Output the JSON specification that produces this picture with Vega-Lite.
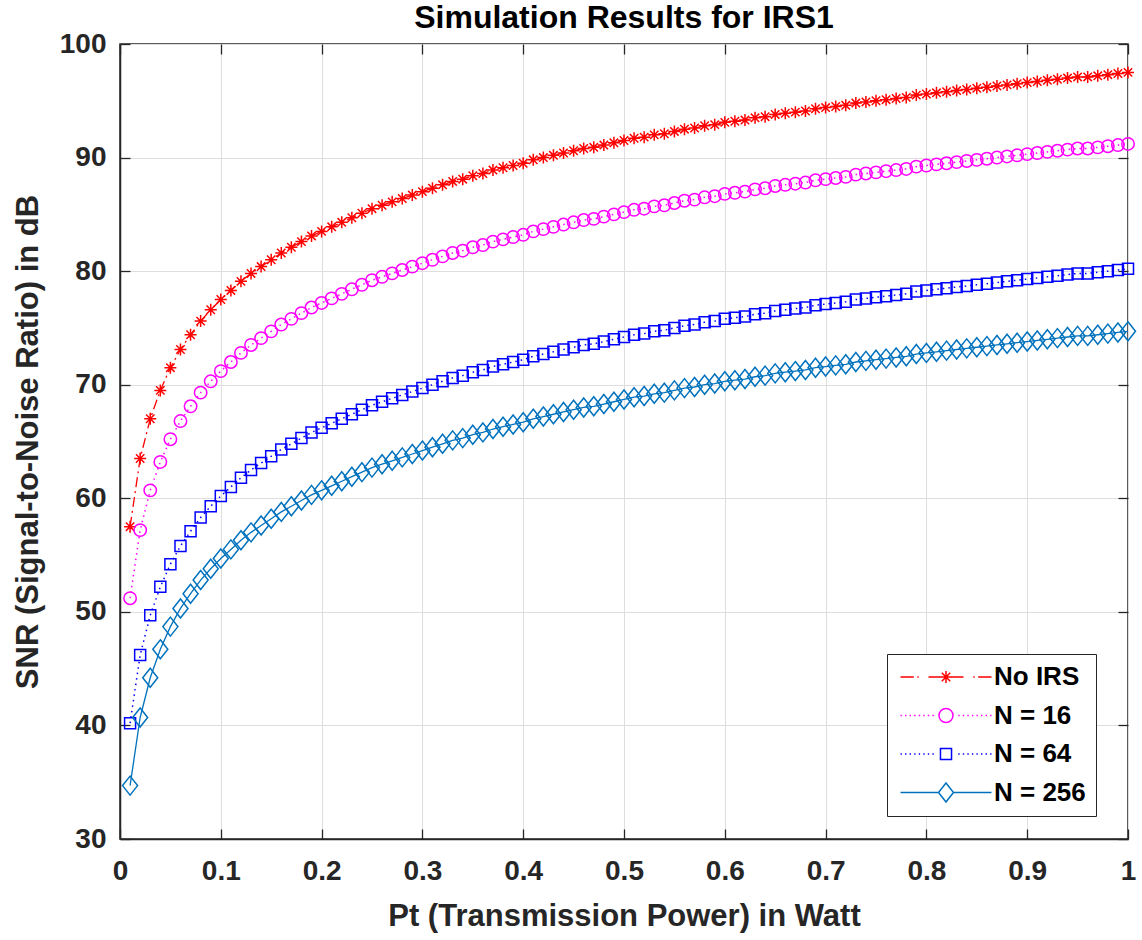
{
"$schema": "https://vega.github.io/schema/vega-lite/v6.json",
"width": 1008,
"height": 795,
"autosize": {"type": "none"},
"padding": {"left": 120, "top": 44, "right": 14, "bottom": 101},
"background": "white",
"title": {"text": "Simulation Results for IRS1", "fontSize": 32, "fontWeight": "bold", "color": "black", "font": "Liberation Sans", "anchor": "middle", "frame": "group", "offset": -5},
"config": {
  "font": "Liberation Sans",
  "view": {"stroke": "#262626", "strokeWidth": 1.5},
  "axis": {"labelFont": "Liberation Sans", "titleFont": "Liberation Sans"}
},
"datasets": {
"noirs": [{"pt":0.01,"snr":57.5},{"pt":0.02,"snr":63.5},{"pt":0.03,"snr":67.0},{"pt":0.04,"snr":69.5},{"pt":0.05,"snr":71.5},{"pt":0.06,"snr":73.1},{"pt":0.07,"snr":74.4},{"pt":0.08,"snr":75.6},{"pt":0.09,"snr":76.6},{"pt":0.10,"snr":77.5},
{"pt":0.11,"snr":78.3},{"pt":0.12,"snr":79.1},{"pt":0.13,"snr":79.8},{"pt":0.14,"snr":80.4},{"pt":0.15,"snr":81.0},{"pt":0.16,"snr":81.6},{"pt":0.17,"snr":82.1},{"pt":0.18,"snr":82.6},{"pt":0.19,"snr":83.1},{"pt":0.20,"snr":83.5},
{"pt":0.21,"snr":83.9},{"pt":0.22,"snr":84.3},{"pt":0.23,"snr":84.7},{"pt":0.24,"snr":85.1},{"pt":0.25,"snr":85.5},{"pt":0.26,"snr":85.8},{"pt":0.27,"snr":86.1},{"pt":0.28,"snr":86.4},{"pt":0.29,"snr":86.7},{"pt":0.30,"snr":87.0},
{"pt":0.31,"snr":87.3},{"pt":0.32,"snr":87.6},{"pt":0.33,"snr":87.9},{"pt":0.34,"snr":88.1},{"pt":0.35,"snr":88.4},{"pt":0.36,"snr":88.6},{"pt":0.37,"snr":88.9},{"pt":0.38,"snr":89.1},{"pt":0.39,"snr":89.3},{"pt":0.40,"snr":89.5},
{"pt":0.41,"snr":89.8},{"pt":0.42,"snr":90.0},{"pt":0.43,"snr":90.2},{"pt":0.44,"snr":90.4},{"pt":0.45,"snr":90.6},{"pt":0.46,"snr":90.8},{"pt":0.47,"snr":90.9},{"pt":0.48,"snr":91.1},{"pt":0.49,"snr":91.3},{"pt":0.50,"snr":91.5},
{"pt":0.51,"snr":91.7},{"pt":0.52,"snr":91.8},{"pt":0.53,"snr":92.0},{"pt":0.54,"snr":92.1},{"pt":0.55,"snr":92.3},{"pt":0.56,"snr":92.5},{"pt":0.57,"snr":92.6},{"pt":0.58,"snr":92.8},{"pt":0.59,"snr":92.9},{"pt":0.60,"snr":93.1},
{"pt":0.61,"snr":93.2},{"pt":0.62,"snr":93.3},{"pt":0.63,"snr":93.5},{"pt":0.64,"snr":93.6},{"pt":0.65,"snr":93.8},{"pt":0.66,"snr":93.9},{"pt":0.67,"snr":94.0},{"pt":0.68,"snr":94.1},{"pt":0.69,"snr":94.3},{"pt":0.70,"snr":94.4},
{"pt":0.71,"snr":94.5},{"pt":0.72,"snr":94.6},{"pt":0.73,"snr":94.8},{"pt":0.74,"snr":94.9},{"pt":0.75,"snr":95.0},{"pt":0.76,"snr":95.1},{"pt":0.77,"snr":95.2},{"pt":0.78,"snr":95.3},{"pt":0.79,"snr":95.5},{"pt":0.80,"snr":95.6},
{"pt":0.81,"snr":95.7},{"pt":0.82,"snr":95.8},{"pt":0.83,"snr":95.9},{"pt":0.84,"snr":96.0},{"pt":0.85,"snr":96.1},{"pt":0.86,"snr":96.2},{"pt":0.87,"snr":96.3},{"pt":0.88,"snr":96.4},{"pt":0.89,"snr":96.5},{"pt":0.90,"snr":96.6},
{"pt":0.91,"snr":96.7},{"pt":0.92,"snr":96.8},{"pt":0.93,"snr":96.9},{"pt":0.94,"snr":97.0},{"pt":0.95,"snr":97.1},{"pt":0.96,"snr":97.1},{"pt":0.97,"snr":97.2},{"pt":0.98,"snr":97.3},{"pt":0.99,"snr":97.4},{"pt":1.00,"snr":97.5}],
"n16": [{"pt":0.01,"snr":51.2},{"pt":0.02,"snr":57.2},{"pt":0.03,"snr":60.7},{"pt":0.04,"snr":63.2},{"pt":0.05,"snr":65.2},{"pt":0.06,"snr":66.8},{"pt":0.07,"snr":68.1},{"pt":0.08,"snr":69.3},{"pt":0.09,"snr":70.3},{"pt":0.10,"snr":71.2},
{"pt":0.11,"snr":72.0},{"pt":0.12,"snr":72.8},{"pt":0.13,"snr":73.5},{"pt":0.14,"snr":74.1},{"pt":0.15,"snr":74.7},{"pt":0.16,"snr":75.3},{"pt":0.17,"snr":75.8},{"pt":0.18,"snr":76.3},{"pt":0.19,"snr":76.8},{"pt":0.20,"snr":77.2},
{"pt":0.21,"snr":77.6},{"pt":0.22,"snr":78.0},{"pt":0.23,"snr":78.4},{"pt":0.24,"snr":78.8},{"pt":0.25,"snr":79.2},{"pt":0.26,"snr":79.5},{"pt":0.27,"snr":79.8},{"pt":0.28,"snr":80.1},{"pt":0.29,"snr":80.4},{"pt":0.30,"snr":80.7},
{"pt":0.31,"snr":81.0},{"pt":0.32,"snr":81.3},{"pt":0.33,"snr":81.6},{"pt":0.34,"snr":81.8},{"pt":0.35,"snr":82.1},{"pt":0.36,"snr":82.3},{"pt":0.37,"snr":82.6},{"pt":0.38,"snr":82.8},{"pt":0.39,"snr":83.0},{"pt":0.40,"snr":83.2},
{"pt":0.41,"snr":83.5},{"pt":0.42,"snr":83.7},{"pt":0.43,"snr":83.9},{"pt":0.44,"snr":84.1},{"pt":0.45,"snr":84.3},{"pt":0.46,"snr":84.5},{"pt":0.47,"snr":84.6},{"pt":0.48,"snr":84.8},{"pt":0.49,"snr":85.0},{"pt":0.50,"snr":85.2},
{"pt":0.51,"snr":85.4},{"pt":0.52,"snr":85.5},{"pt":0.53,"snr":85.7},{"pt":0.54,"snr":85.8},{"pt":0.55,"snr":86.0},{"pt":0.56,"snr":86.2},{"pt":0.57,"snr":86.3},{"pt":0.58,"snr":86.5},{"pt":0.59,"snr":86.6},{"pt":0.60,"snr":86.8},
{"pt":0.61,"snr":86.9},{"pt":0.62,"snr":87.0},{"pt":0.63,"snr":87.2},{"pt":0.64,"snr":87.3},{"pt":0.65,"snr":87.5},{"pt":0.66,"snr":87.6},{"pt":0.67,"snr":87.7},{"pt":0.68,"snr":87.8},{"pt":0.69,"snr":88.0},{"pt":0.70,"snr":88.1},
{"pt":0.71,"snr":88.2},{"pt":0.72,"snr":88.3},{"pt":0.73,"snr":88.5},{"pt":0.74,"snr":88.6},{"pt":0.75,"snr":88.7},{"pt":0.76,"snr":88.8},{"pt":0.77,"snr":88.9},{"pt":0.78,"snr":89.0},{"pt":0.79,"snr":89.2},{"pt":0.80,"snr":89.3},
{"pt":0.81,"snr":89.4},{"pt":0.82,"snr":89.5},{"pt":0.83,"snr":89.6},{"pt":0.84,"snr":89.7},{"pt":0.85,"snr":89.8},{"pt":0.86,"snr":89.9},{"pt":0.87,"snr":90.0},{"pt":0.88,"snr":90.1},{"pt":0.89,"snr":90.2},{"pt":0.90,"snr":90.3},
{"pt":0.91,"snr":90.4},{"pt":0.92,"snr":90.5},{"pt":0.93,"snr":90.6},{"pt":0.94,"snr":90.7},{"pt":0.95,"snr":90.8},{"pt":0.96,"snr":90.8},{"pt":0.97,"snr":90.9},{"pt":0.98,"snr":91.0},{"pt":0.99,"snr":91.1},{"pt":1.00,"snr":91.2}],
"n64": [{"pt":0.01,"snr":40.2},{"pt":0.02,"snr":46.2},{"pt":0.03,"snr":49.7},{"pt":0.04,"snr":52.2},{"pt":0.05,"snr":54.2},{"pt":0.06,"snr":55.8},{"pt":0.07,"snr":57.1},{"pt":0.08,"snr":58.3},{"pt":0.09,"snr":59.3},{"pt":0.10,"snr":60.2},
{"pt":0.11,"snr":61.0},{"pt":0.12,"snr":61.8},{"pt":0.13,"snr":62.5},{"pt":0.14,"snr":63.1},{"pt":0.15,"snr":63.7},{"pt":0.16,"snr":64.3},{"pt":0.17,"snr":64.8},{"pt":0.18,"snr":65.3},{"pt":0.19,"snr":65.8},{"pt":0.20,"snr":66.2},
{"pt":0.21,"snr":66.6},{"pt":0.22,"snr":67.0},{"pt":0.23,"snr":67.4},{"pt":0.24,"snr":67.8},{"pt":0.25,"snr":68.2},{"pt":0.26,"snr":68.5},{"pt":0.27,"snr":68.8},{"pt":0.28,"snr":69.1},{"pt":0.29,"snr":69.4},{"pt":0.30,"snr":69.7},
{"pt":0.31,"snr":70.0},{"pt":0.32,"snr":70.3},{"pt":0.33,"snr":70.6},{"pt":0.34,"snr":70.8},{"pt":0.35,"snr":71.1},{"pt":0.36,"snr":71.3},{"pt":0.37,"snr":71.6},{"pt":0.38,"snr":71.8},{"pt":0.39,"snr":72.0},{"pt":0.40,"snr":72.2},
{"pt":0.41,"snr":72.5},{"pt":0.42,"snr":72.7},{"pt":0.43,"snr":72.9},{"pt":0.44,"snr":73.1},{"pt":0.45,"snr":73.3},{"pt":0.46,"snr":73.5},{"pt":0.47,"snr":73.6},{"pt":0.48,"snr":73.8},{"pt":0.49,"snr":74.0},{"pt":0.50,"snr":74.2},
{"pt":0.51,"snr":74.4},{"pt":0.52,"snr":74.5},{"pt":0.53,"snr":74.7},{"pt":0.54,"snr":74.8},{"pt":0.55,"snr":75.0},{"pt":0.56,"snr":75.2},{"pt":0.57,"snr":75.3},{"pt":0.58,"snr":75.5},{"pt":0.59,"snr":75.6},{"pt":0.60,"snr":75.8},
{"pt":0.61,"snr":75.9},{"pt":0.62,"snr":76.0},{"pt":0.63,"snr":76.2},{"pt":0.64,"snr":76.3},{"pt":0.65,"snr":76.5},{"pt":0.66,"snr":76.6},{"pt":0.67,"snr":76.7},{"pt":0.68,"snr":76.8},{"pt":0.69,"snr":77.0},{"pt":0.70,"snr":77.1},
{"pt":0.71,"snr":77.2},{"pt":0.72,"snr":77.3},{"pt":0.73,"snr":77.5},{"pt":0.74,"snr":77.6},{"pt":0.75,"snr":77.7},{"pt":0.76,"snr":77.8},{"pt":0.77,"snr":77.9},{"pt":0.78,"snr":78.0},{"pt":0.79,"snr":78.2},{"pt":0.80,"snr":78.3},
{"pt":0.81,"snr":78.4},{"pt":0.82,"snr":78.5},{"pt":0.83,"snr":78.6},{"pt":0.84,"snr":78.7},{"pt":0.85,"snr":78.8},{"pt":0.86,"snr":78.9},{"pt":0.87,"snr":79.0},{"pt":0.88,"snr":79.1},{"pt":0.89,"snr":79.2},{"pt":0.90,"snr":79.3},
{"pt":0.91,"snr":79.4},{"pt":0.92,"snr":79.5},{"pt":0.93,"snr":79.6},{"pt":0.94,"snr":79.7},{"pt":0.95,"snr":79.8},{"pt":0.96,"snr":79.8},{"pt":0.97,"snr":79.9},{"pt":0.98,"snr":80.0},{"pt":0.99,"snr":80.1},{"pt":1.00,"snr":80.2}],
"n256": [{"pt":0.01,"snr":34.7},{"pt":0.02,"snr":40.7},{"pt":0.03,"snr":44.2},{"pt":0.04,"snr":46.7},{"pt":0.05,"snr":48.7},{"pt":0.06,"snr":50.3},{"pt":0.07,"snr":51.6},{"pt":0.08,"snr":52.8},{"pt":0.09,"snr":53.8},{"pt":0.10,"snr":54.7},
{"pt":0.11,"snr":55.5},{"pt":0.12,"snr":56.3},{"pt":0.13,"snr":57.0},{"pt":0.14,"snr":57.6},{"pt":0.15,"snr":58.2},{"pt":0.16,"snr":58.8},{"pt":0.17,"snr":59.3},{"pt":0.18,"snr":59.8},{"pt":0.19,"snr":60.3},{"pt":0.20,"snr":60.7},
{"pt":0.21,"snr":61.1},{"pt":0.22,"snr":61.5},{"pt":0.23,"snr":61.9},{"pt":0.24,"snr":62.3},{"pt":0.25,"snr":62.7},{"pt":0.26,"snr":63.0},{"pt":0.27,"snr":63.3},{"pt":0.28,"snr":63.6},{"pt":0.29,"snr":63.9},{"pt":0.30,"snr":64.2},
{"pt":0.31,"snr":64.5},{"pt":0.32,"snr":64.8},{"pt":0.33,"snr":65.1},{"pt":0.34,"snr":65.3},{"pt":0.35,"snr":65.6},{"pt":0.36,"snr":65.8},{"pt":0.37,"snr":66.1},{"pt":0.38,"snr":66.3},{"pt":0.39,"snr":66.5},{"pt":0.40,"snr":66.7},
{"pt":0.41,"snr":67.0},{"pt":0.42,"snr":67.2},{"pt":0.43,"snr":67.4},{"pt":0.44,"snr":67.6},{"pt":0.45,"snr":67.8},{"pt":0.46,"snr":68.0},{"pt":0.47,"snr":68.1},{"pt":0.48,"snr":68.3},{"pt":0.49,"snr":68.5},{"pt":0.50,"snr":68.7},
{"pt":0.51,"snr":68.9},{"pt":0.52,"snr":69.0},{"pt":0.53,"snr":69.2},{"pt":0.54,"snr":69.3},{"pt":0.55,"snr":69.5},{"pt":0.56,"snr":69.7},{"pt":0.57,"snr":69.8},{"pt":0.58,"snr":70.0},{"pt":0.59,"snr":70.1},{"pt":0.60,"snr":70.3},
{"pt":0.61,"snr":70.4},{"pt":0.62,"snr":70.5},{"pt":0.63,"snr":70.7},{"pt":0.64,"snr":70.8},{"pt":0.65,"snr":71.0},{"pt":0.66,"snr":71.1},{"pt":0.67,"snr":71.2},{"pt":0.68,"snr":71.3},{"pt":0.69,"snr":71.5},{"pt":0.70,"snr":71.6},
{"pt":0.71,"snr":71.7},{"pt":0.72,"snr":71.8},{"pt":0.73,"snr":72.0},{"pt":0.74,"snr":72.1},{"pt":0.75,"snr":72.2},{"pt":0.76,"snr":72.3},{"pt":0.77,"snr":72.4},{"pt":0.78,"snr":72.5},{"pt":0.79,"snr":72.7},{"pt":0.80,"snr":72.8},
{"pt":0.81,"snr":72.9},{"pt":0.82,"snr":73.0},{"pt":0.83,"snr":73.1},{"pt":0.84,"snr":73.2},{"pt":0.85,"snr":73.3},{"pt":0.86,"snr":73.4},{"pt":0.87,"snr":73.5},{"pt":0.88,"snr":73.6},{"pt":0.89,"snr":73.7},{"pt":0.90,"snr":73.8},
{"pt":0.91,"snr":73.9},{"pt":0.92,"snr":74.0},{"pt":0.93,"snr":74.1},{"pt":0.94,"snr":74.2},{"pt":0.95,"snr":74.3},{"pt":0.96,"snr":74.3},{"pt":0.97,"snr":74.4},{"pt":0.98,"snr":74.5},{"pt":0.99,"snr":74.6},{"pt":1.00,"snr":74.7}],
"legend": [{"s":"No IRS","pt":0.01,"snr":57.5},{"s":"N = 16","pt":0.01,"snr":51.2},{"s":"N = 64","pt":0.01,"snr":40.2},{"s":"N = 256","pt":0.01,"snr":34.7}]
},
"encoding": {
  "x": {"field": "pt", "type": "quantitative", "scale": {"domain": [0, 1], "nice": false, "zero": false}, "axis": null},
  "y": {"field": "snr", "type": "quantitative", "scale": {"domain": [30, 100], "nice": false, "zero": false}, "axis": null}
},
"layer": [
  {
    "data": {"name": "noirs"},
    "mark": {"type": "line", "color": "#FF0000", "strokeWidth": 1.3, "strokeDash": [10, 4, 2, 4]},
    "encoding": {
      "x": {"field": "pt", "type": "quantitative", "scale": {"domain": [0, 1], "nice": false, "zero": false},
        "axis": {"orient": "bottom", "values": [0, 0.1, 0.2, 0.3, 0.4, 0.5, 0.6, 0.7, 0.8, 0.9, 1], "format": "~g",
          "title": "Pt (Transmission Power) in Watt", "titleFontSize": 31, "titleFontWeight": "bold", "titleColor": "#262626", "titlePadding": 16,
          "labelFontSize": 28, "labelFontWeight": "bold", "labelColor": "#262626", "labelPadding": 28, "labelFlush": false, "labelOverlap": false,
          "tickSize": -10, "tickColor": "#262626", "tickWidth": 1.3, "domainColor": "#262626", "domainWidth": 1.5,
          "grid": true, "gridColor": "#DEDEDE", "gridWidth": 1}},
      "y": {"field": "snr", "type": "quantitative", "scale": {"domain": [30, 100], "nice": false, "zero": false},
        "axis": {"orient": "left", "values": [30, 40, 50, 60, 70, 80, 90, 100],
          "title": "SNR (Signal-to-Noise Ratio) in dB", "titleFontSize": 31, "titleFontWeight": "bold", "titleColor": "#262626", "titlePadding": 15,
          "labelFontSize": 28, "labelFontWeight": "bold", "labelColor": "#262626", "labelPadding": 24, "labelFlush": false, "labelOverlap": false,
          "tickSize": -10, "tickColor": "#262626", "tickWidth": 1.3, "domainColor": "#262626", "domainWidth": 1.5,
          "grid": true, "gridColor": "#DEDEDE", "gridWidth": 1}}
    }
  },
  {
    "data": {"name": "noirs"},
    "mark": {"type": "point", "shape": "M-1,0H1M0,-1V1M-0.7,-0.7L0.7,0.7M-0.7,0.7L0.7,-0.7", "size": 144, "filled": false, "color": "#FF0000", "strokeWidth": 1.5, "opacity": 1}
  },
  {
    "data": {"name": "n16"},
    "mark": {"type": "line", "color": "#FF00FF", "strokeWidth": 1.5, "strokeDash": [1.5, 4]}
  },
  {
    "data": {"name": "n16"},
    "mark": {"type": "point", "shape": "circle", "size": 154, "filled": false, "color": "#FF00FF", "strokeWidth": 1.5, "opacity": 1}
  },
  {
    "data": {"name": "n64"},
    "mark": {"type": "line", "color": "#0000FF", "strokeWidth": 1.5, "strokeDash": [1.5, 4]}
  },
  {
    "data": {"name": "n64"},
    "mark": {"type": "point", "shape": "square", "size": 121, "filled": false, "color": "#0000FF", "strokeWidth": 1.5, "opacity": 1}
  },
  {
    "data": {"name": "n256"},
    "mark": {"type": "line", "color": "#0072BD", "strokeWidth": 1.3}
  },
  {
    "data": {"name": "n256"},
    "mark": {"type": "point", "shape": "M0,-1L0.79,0L0,1L-0.79,0Z", "size": 361, "filled": false, "color": "#0072BD", "strokeWidth": 1.5, "opacity": 1}
  },
  {
    "data": {"name": "legend"},
    "mark": {"type": "point", "filled": false, "opacity": 0, "strokeWidth": 1.5},
    "encoding": {
      "x": {"field": "pt", "type": "quantitative", "scale": {"domain": [0, 1], "nice": false, "zero": false},
        "axis": {"orient": "top", "labels": false, "domain": false, "grid": false, "title": null, "values": [0, 0.1, 0.2, 0.3, 0.4, 0.5, 0.6, 0.7, 0.8, 0.9, 1], "tickSize": -10, "tickColor": "#262626", "tickWidth": 1.3}},
      "y": {"field": "snr", "type": "quantitative", "scale": {"domain": [30, 100], "nice": false, "zero": false},
        "axis": {"orient": "right", "labels": false, "domain": false, "grid": false, "title": null, "values": [30, 40, 50, 60, 70, 80, 90, 100], "tickSize": -10, "tickColor": "#262626", "tickWidth": 1.3}},
      "color": {"field": "s", "type": "nominal",
        "scale": {"domain": ["No IRS", "N = 16", "N = 64", "N = 256"], "range": ["#FF0000", "#FF00FF", "#0000FF", "#0072BD"]},
        "legend": {"title": null, "orient": "none", "legendX": 767, "legendY": 610, "padding": 10, "strokeColor": "#262626", "fillColor": "white",
          "labelFontSize": 26, "labelFontWeight": "bold", "labelColor": "black", "labelFont": "Liberation Sans",
          "symbolSize": 196, "symbolStrokeWidth": 1.5, "symbolOpacity": 1, "symbolOffset": 36, "labelOffset": 35, "rowPadding": 12.5}},
      "shape": {"field": "s", "type": "nominal",
        "scale": {"domain": ["No IRS", "N = 16", "N = 64", "N = 256"], "range": [
          "M-6.5,0H-4.6M-4.1,0H-3.9M-2.5,0H-0.6M0.6,0H2.5M3.9,0H4.1M4.6,0H6.5M-0.86,0H0.86M0,-0.86V0.86M-0.6,-0.6L0.6,0.6M-0.6,0.6L0.6,-0.6",
          "M-6.5,0h0.2M-5.85,0h0.2M-5.2,0h0.2M-4.55,0h0.2M-3.9,0h0.2M-3.25,0h0.2M-2.6,0h0.2M-1.95,0h0.2M1.75,0h0.2M2.4,0h0.2M3.05,0h0.2M3.7,0h0.2M4.35,0h0.2M5,0h0.2M5.65,0h0.2M6.3,0h0.2M-1,0A1,1 0 1,0 1,0A1,1 0 1,0 -1,0",
          "M-6.5,0h0.2M-5.85,0h0.2M-5.2,0h0.2M-4.55,0h0.2M-3.9,0h0.2M-3.25,0h0.2M-2.6,0h0.2M-1.95,0h0.2M1.75,0h0.2M2.4,0h0.2M3.05,0h0.2M3.7,0h0.2M4.35,0h0.2M5,0h0.2M5.65,0h0.2M6.3,0h0.2M-0.79,-0.79H0.79V0.79H-0.79Z",
          "M-6.5,0H-1.07M1.07,0H6.5M0,-1.36L1.07,0L0,1.36L-1.07,0Z"]},
        "legend": {"title": null, "orient": "none", "legendX": 767, "legendY": 610, "padding": 10, "strokeColor": "#262626", "fillColor": "white",
          "labelFontSize": 26, "labelFontWeight": "bold", "labelColor": "black", "labelFont": "Liberation Sans",
          "symbolSize": 196, "symbolStrokeWidth": 1.5, "symbolOpacity": 1, "symbolOffset": 36, "labelOffset": 35, "rowPadding": 12.5}}
    }
  }
]
}
